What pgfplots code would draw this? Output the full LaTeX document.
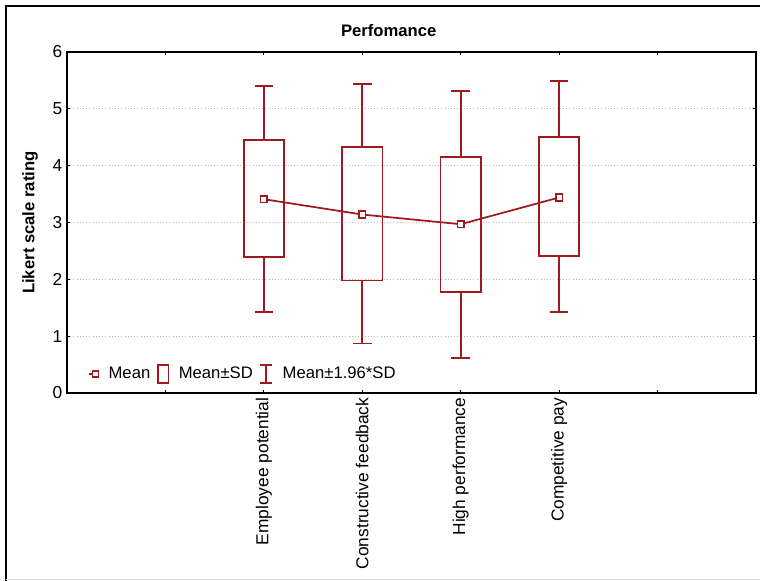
\documentclass[border=0pt]{standalone}
\usepackage{fontspec}
\setmainfont{Liberation Sans}
\usepackage{pgfplots}
\pgfplotsset{compat=1.18}
\usepgfplotslibrary{statistics}
\definecolor{bx}{RGB}{158,26,30}
\begin{document}
\begin{tikzpicture}
\useasboundingbox (-50.25pt,-141pt) rectangle (519.75pt,294.75pt);
\begin{axis}[
  scale only axis, width=516.75pt, height=255.75pt,
  xmin=0, xmax=7, ymin=0, ymax=6,
  xtick={1,2,3,4,5,6},
  xticklabels={{},Employee potential,Constructive feedback,High performance,Competitive pay,{}},
  ytick={0,1,2,3,4,5,6},
  tick pos=both, tick align=inside, major tick length=2.5pt,
  tick style={black, line width=0.8pt},
  axis line style={line width=1.2pt},
  ymajorgrids, major grid style={gray!55, dotted, line width=0.8pt},
  xticklabel style={rotate=90, anchor=east, font=\fontsize{13}{15}\selectfont},
  yticklabel style={font=\fontsize{13}{15}\selectfont},
  /pgf/number format/assume math mode=true,
  title={Perfomance},
  title style={at={(axis description cs:0.467,1)}, anchor=center, yshift=9.75pt, font=\bfseries\fontsize{12.5}{15}\selectfont},
  ylabel={Likert scale rating},
  ylabel style={at={(axis description cs:-0.0537,0.5)}, anchor=center, font=\bfseries\fontsize{12.5}{15}\selectfont},
  legend style={draw=none, fill=none, at={(axis description cs:0.024,0.056)}, anchor=west,
    font=\fontsize{12.5}{15}\selectfont,
    /tikz/every even column/.append style={column sep=3pt},
    /tikz/every odd column/.append style={column sep=5pt}},
  legend columns=3, legend cell align=left,
  boxplot/draw direction=y,
  boxplot/box extend=0.41, boxplot/whisker extend=0.19,
]
\addlegendimage{legend image code/.code={\draw[bx, line width=1.2pt] (0pt,0pt) -- (5pt,0pt); \draw[bx, line width=1.2pt, fill=white] (3pt,-2.2pt) rectangle (7.4pt,2.2pt);}}
\addlegendentry{Mean}
\addlegendimage{legend image code/.code={\draw[bx, line width=1.4pt] (0pt,-6.5pt) rectangle (8pt,6.5pt);}}
\addlegendentry{Mean±SD}
\addlegendimage{legend image code/.code={\draw[bx, line width=1.4pt] (4.5pt,-6.5pt) -- (4.5pt,6.5pt); \draw[bx,line width=1.4pt] (0pt,-6.5pt) -- (9pt,-6.5pt) (0pt,6.5pt) -- (9pt,6.5pt);}}
\addlegendentry{Mean±1.96*SD}

\addplot[bx, line width=1.4pt, forget plot, boxplot prepared={draw position=2, lower whisker=1.43, lower quartile=2.39, median=2.39, upper quartile=4.45, upper whisker=5.40}] coordinates {};
\addplot[bx, line width=1.4pt, forget plot, boxplot prepared={draw position=3, lower whisker=0.87, lower quartile=1.98, median=1.98, upper quartile=4.33, upper whisker=5.43}] coordinates {};
\addplot[bx, line width=1.4pt, forget plot, boxplot prepared={draw position=4, lower whisker=0.62, lower quartile=1.78, median=1.78, upper quartile=4.16, upper whisker=5.32}] coordinates {};
\addplot[bx, line width=1.4pt, forget plot, boxplot prepared={draw position=5, lower whisker=1.43, lower quartile=2.41, median=2.41, upper quartile=4.50, upper whisker=5.49}] coordinates {};

\addplot[bx, line width=1.3pt, mark=square*, mark size=2.5pt, mark options={fill=white, solid}, forget plot] coordinates {(2,3.41) (3,3.14) (4,2.97) (5,3.44)};
\end{axis}
\draw[line width=1.5pt] (-45.75pt,-141pt) -- (-45.75pt,290.25pt) -- (519.75pt,290.25pt);
\draw[gray!25, line width=1pt] (-45.75pt,-140pt) -- (519.75pt,-140pt);
\end{tikzpicture}
\end{document}
